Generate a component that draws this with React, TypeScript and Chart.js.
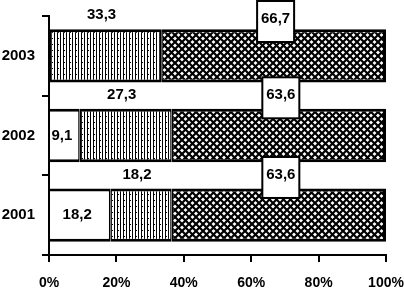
import React, { useEffect, useRef } from "react";
import { Chart, registerables } from "chart.js";

Chart.register(...registerables);

const categories = ["2003", "2002", "2001"];
const plainValues = [0, 9.1, 18.2];
const stripedValues = [33.3, 27.3, 18.2];
const hatchedValues = [66.7, 63.6, 63.6];
const xTickValues = [0, 20, 40, 60, 80, 100];

const FONT = "'Liberation Sans', Arial, sans-serif";

function makeStripes(): CanvasPattern | string {
  const c = document.createElement("canvas");
  c.width = 6;
  c.height = 6;
  const g = c.getContext("2d");
  if (!g) return "#888";
  g.fillStyle = "#fff";
  g.fillRect(0, 0, 6, 6);
  g.fillStyle = "#000";
  g.fillRect(0, 0, 1, 6);
  g.fillRect(3, 0, 1, 6);
  g.fillRect(4, 2, 1, 1);
  return g.createPattern(c, "repeat") || "#888";
}

function makeHatch(): CanvasPattern | string {
  const s = 7;
  const c = document.createElement("canvas");
  c.width = s;
  c.height = s;
  const g = c.getContext("2d");
  if (!g) return "#444";
  g.fillStyle = "#fff";
  g.fillRect(0, 0, s, s);
  g.strokeStyle = "#000";
  g.lineWidth = 2.2;
  for (const d of [-s, 0, s]) {
    g.beginPath();
    g.moveTo(d, 0);
    g.lineTo(d + s, s);
    g.moveTo(d + s, 0);
    g.lineTo(d, s);
    g.stroke();
  }
  return g.createPattern(c, "repeat") || "#444";
}

const fmt = (v: number) => v.toFixed(1).replace(".", ",");

const labelPlugin = {
  id: "segmentLabels",
  afterDatasetsDraw(chart: any) {
    const ctx = chart.ctx as CanvasRenderingContext2D;
    ctx.save();
    ctx.fillStyle = "#000";
    ctx.textAlign = "center";
    ctx.textBaseline = "middle";
    ctx.font = `bold 15px ${FONT}`;
    chart.data.datasets.forEach((ds: any, di: number) => {
      const meta = chart.getDatasetMeta(di);
      meta.data.forEach((el: any, i: number) => {
        const v = ds.data[i] as number;
        if (!v) return;
        const cx = (el.x + el.base) / 2;
        const top = el.y - el.height / 2;
        if (di === 0) {
          ctx.fillText(fmt(v), cx - 3, el.y);
        } else if (di === 1) {
          ctx.fillText(fmt(v), cx - 4, top - 14);
        } else {
          const w = 37;
          const h = 41;
          let by = top - 11 - h / 2;
          if (by < 1) by = 1;
          const bx = cx + 2 - w / 2;
          ctx.fillStyle = "#fff";
          ctx.fillRect(bx, by, w, h);
          ctx.strokeStyle = "#000";
          ctx.lineWidth = 2;
          ctx.strokeRect(bx, by, w, h);
          ctx.fillStyle = "#000";
          ctx.fillText(fmt(v), bx + w / 2, by + h / 2 - 3);
        }
      });
    });
    ctx.restore();
  },
};

export default function App() {
  const ref = useRef<HTMLCanvasElement | null>(null);

  useEffect(() => {
    document.body.style.margin = "0";
    const canvas = ref.current;
    if (!canvas) return;
    const stripes = makeStripes();
    const hatch = makeHatch();
    const chart = new Chart(canvas, {
      type: "bar",
      data: {
        labels: categories,
        datasets: [
          {
            data: plainValues,
            backgroundColor: "#fff",
            borderColor: "#000",
            borderWidth: { top: 3, bottom: 3, left: 0, right: 1.5 } as any,
            borderSkipped: false,
            barPercentage: 0.67,
            categoryPercentage: 1,
          },
          {
            data: stripedValues,
            backgroundColor: stripes as any,
            borderColor: "#000",
            borderWidth: { top: 3, bottom: 3, left: 1.5, right: 1.5 } as any,
            borderSkipped: false,
            barPercentage: 0.67,
            categoryPercentage: 1,
          },
          {
            data: hatchedValues,
            backgroundColor: hatch as any,
            borderColor: "#000",
            borderWidth: { top: 3, bottom: 3, left: 1.5, right: 3 } as any,
            borderSkipped: false,
            barPercentage: 0.67,
            categoryPercentage: 1,
          },
        ],
      },
      options: {
        indexAxis: "y",
        responsive: false,
        animation: false,
        layout: { padding: { top: 16, right: 18, left: 0, bottom: 0 } },
        plugins: {
          legend: { display: false },
          tooltip: { enabled: false },
        },
        scales: {
          x: {
            stacked: true,
            min: 0,
            max: 100,
            afterBuildTicks: (scale: any) => {
              scale.ticks = xTickValues.map((v) => ({ value: v }));
            },
            afterFit: (scale: any) => {
              scale.height = 36;
              scale.paddingRight = 0;
              scale.paddingLeft = 0;
            },
            grid: {
              drawOnChartArea: false,
              drawTicks: true,
              tickLength: 7,
              color: "#000",
              lineWidth: 2,
            },
            border: { display: true, color: "#000", width: 2 },
            ticks: {
              padding: 13,
              color: "#000",
              font: { family: FONT, size: 14, weight: 700 },
              callback: (v: any) => `${v}%`,
            },
          },
          y: {
            stacked: true,
            afterFit: (scale: any) => {
              scale.width = 49;
              scale.paddingTop = 0;
              scale.paddingBottom = 0;
            },
            grid: {
              drawOnChartArea: false,
              drawTicks: true,
              tickLength: 7,
              color: "#000",
              lineWidth: 2,
            },
            border: { display: true, color: "#000", width: 2 },
            ticks: {
              padding: 7,
              color: "#000",
              font: { family: FONT, size: 15, weight: 700 },
            },
          },
        },
      },
      plugins: [labelPlugin],
    });
    return () => chart.destroy();
  }, []);

  return (
    <div style={{ width: 404, height: 291, background: "#fff" }}>
      <canvas ref={ref} width={404} height={291} />
    </div>
  );
}
